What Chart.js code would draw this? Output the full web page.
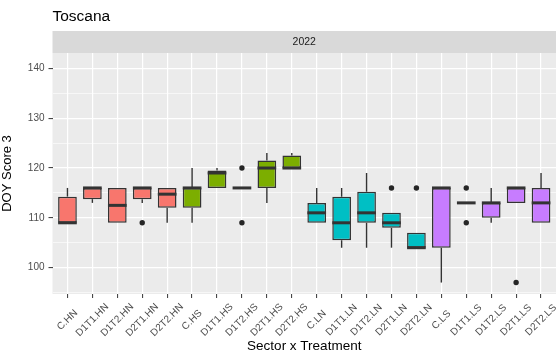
<!DOCTYPE html>
<html>
<head>
<meta charset="utf-8">
<script src="https://cdn.jsdelivr.net/npm/chart.js@4"></script>
<style>
  html, body { margin: 0; padding: 0; background: #ffffff; }
  #wrap { width: 557px; height: 355px; }
</style>
</head>
<body>
<div id="wrap"><canvas id="doyChart" width="557" height="355"></canvas></div>
<script>
/* ---------------- Data: DOY score 3, Toscana 2022 ---------------- */
const categories = ['C.HN','D1T1.HN','D1T2.HN','D2T1.HN','D2T2.HN',
                    'C.HS','D1T1.HS','D1T2.HS','D2T1.HS','D2T2.HS',
                    'C.LN','D1T1.LN','D1T2.LN','D2T1.LN','D2T2.LN',
                    'C.LS','D1T1.LS','D1T2.LS','D2T1.LS','D2T2.LS'];
const whiskerLow  = [109, 113, 109, 113, 109,  109, 116, 116, 113, 120,  109, 104, 104, 104, 104,   97, 113, 109, 113, 109];
const q1          = [109, 113.75, 109, 113.75, 112,  112, 116, 116, 116, 120,  109, 105.5, 109, 108, 104,  104, 113, 110, 113, 109];
const median      = [109, 116, 112.5, 116, 114.75,  116, 119, 116, 120, 120,  111, 109, 111, 109, 104,  116, 113, 113, 116, 113];
const q3          = [114.25, 116, 116, 116, 116,  116, 119.5, 116, 121.5, 122.5,  113, 114.25, 115.25, 111, 107,  116, 113, 113, 116, 116];
const whiskerHigh = [116, 116, 116, 116, 116,  120, 120, 116, 123, 123,  116, 116, 119, 111, 107,  116, 113, 116, 116, 119];
const outliers    = [[], [], [], [109], [],  [], [], [120, 109], [], [],  [], [], [], [116], [116],  [], [116, 109], [], [97], []];
const yTicks = [100, 110, 120, 130, 140];
const sectorColors = { HN: '#F8766D', HS: '#7CAE00', LN: '#00BFC4', LS: '#C77CFF' };

const FONT = '"Liberation Sans", Arial, sans-serif';
const INK = '#333333';
const TICK_TEXT = '#4D4D4D';

// major ticks plus the minor break halfway below each one
const yGridValues = yTicks.flatMap(v => [v - 5, v]);
const isMajor = c => c.tick && yTicks.includes(c.tick.value);

/* ---------------- Box plot drawing (panel, whiskers, medians, outliers) ---------------- */
const boxPlot = {
    id: 'boxPlot',
    beforeDraw(chart) {
        const { ctx, chartArea: a } = chart;
        ctx.save();
        // panel background
        ctx.fillStyle = '#EBEBEB';
        ctx.fillRect(a.left, a.top, a.right - a.left, a.bottom - a.top);
        // facet strip
        ctx.fillStyle = '#D9D9D9';
        ctx.fillRect(a.left, 31, a.right - a.left, a.top - 31);
        ctx.fillStyle = '#1A1A1A';
        ctx.font = '10.5px ' + FONT;
        ctx.textAlign = 'center';
        ctx.textBaseline = 'middle';
        ctx.fillText('2022', (a.left + a.right) / 2, (31 + a.top) / 2 + 0.5);
        // plot title
        ctx.fillStyle = '#000000';
        ctx.font = '15.5px ' + FONT;
        ctx.textAlign = 'left';
        ctx.textBaseline = 'alphabetic';
        ctx.fillText('Toscana', a.left, 21);
        ctx.restore();
    },
    beforeDatasetsDraw(chart) {
        const { ctx, scales: { x, y } } = chart;
        ctx.save();
        ctx.strokeStyle = INK;
        ctx.lineWidth = 1.4;
        categories.forEach((c, i) => {
            const px = x.getPixelForValue(i);
            ctx.beginPath();
            ctx.moveTo(px, y.getPixelForValue(whiskerLow[i]));
            ctx.lineTo(px, y.getPixelForValue(q1[i]));
            ctx.moveTo(px, y.getPixelForValue(q3[i]));
            ctx.lineTo(px, y.getPixelForValue(whiskerHigh[i]));
            ctx.stroke();
        });
        ctx.restore();
    },
    afterDatasetsDraw(chart) {
        const { ctx, scales: { x, y } } = chart;
        const bars = chart.getDatasetMeta(0).data;
        ctx.save();
        ctx.strokeStyle = INK;
        ctx.lineWidth = 3;
        categories.forEach((c, i) => {
            const px = x.getPixelForValue(i);
            const half = bars[i].width / 2;
            const py = y.getPixelForValue(median[i]);
            ctx.beginPath();
            ctx.moveTo(px - half, py);
            ctx.lineTo(px + half, py);
            ctx.stroke();
            ctx.fillStyle = '#262626';
            outliers[i].forEach(v => {
                ctx.beginPath();
                ctx.arc(px, y.getPixelForValue(v), 2.7, 0, Math.PI * 2);
                ctx.fill();
            });
        });
        ctx.restore();
    },
    afterDraw(chart) {
        // category labels at 45 degrees, centred under each tick
        const { ctx, scales: { x } } = chart;
        const midY = x.top + 26;
        ctx.save();
        ctx.fillStyle = TICK_TEXT;
        ctx.font = '10px ' + FONT;
        ctx.textAlign = 'center';
        ctx.textBaseline = 'middle';
        categories.forEach((c, i) => {
            ctx.save();
            ctx.translate(x.getPixelForValue(i), midY);
            ctx.rotate(-Math.PI / 4);
            ctx.fillText(c, 0, 0);
            ctx.restore();
        });
        ctx.restore();
    }
};

new Chart(document.getElementById('doyChart'), {
    type: 'bar',
    data: {
        datasets: [{
            data: categories.map((c, i) => ({ x: i, y: [q1[i], q3[i]] })),
            backgroundColor: categories.map(c => sectorColors[c.split('.')[1]]),
            borderColor: INK,
            borderWidth: 1.5,
            borderSkipped: false,
            categoryPercentage: 1,
            barPercentage: 0.75
        }]
    },
    options: {
        responsive: false,
        animation: false,
        layout: { padding: { top: 53, right: 1, left: 0, bottom: 0 } },
        plugins: { legend: { display: false }, tooltip: { enabled: false } },
        scales: {
            x: {
                type: 'linear',
                min: -0.6,
                max: 19.6,
                bounds: 'data',
                offset: false,
                afterBuildTicks: s => { s.ticks = categories.map((c, i) => ({ value: i })); },
                afterFit: s => { s.height = 61; },
                ticks: { display: false, autoSkip: false },
                grid: { offset: false, color: '#FFFFFF', lineWidth: 1.2, tickColor: INK, tickLength: 4, tickWidth: 1 },
                border: { display: false },
                title: { display: true, text: 'Sector x Treatment', color: '#000000',
                         font: { family: FONT, size: 13.5 }, padding: { top: 0, bottom: 1 } }
            },
            y: {
                min: 94.7,
                max: 143.1,
                bounds: 'data',
                afterBuildTicks: s => { s.ticks = yGridValues.filter(v => v >= s.min).map(v => ({ value: v })); },
                afterFit: s => { s.width = 52.5; },
                ticks: {
                    padding: 4,
                    color: TICK_TEXT,
                    font: { family: FONT, size: 10 },
                    callback: v => yTicks.includes(v) ? String(v) : ''
                },
                grid: {
                    color: '#FFFFFF',
                    lineWidth: c => isMajor(c) ? 1.2 : 0.6,
                    tickColor: c => isMajor(c) ? INK : 'rgba(0,0,0,0)',
                    tickLength: 4,
                    tickWidth: 1
                },
                border: { display: false },
                title: { display: true, text: 'DOY Score 3', color: '#000000',
                         font: { family: FONT, size: 13 }, padding: { top: 0, bottom: 8 } }
            }
        }
    },
    plugins: [boxPlot]
});
</script>
</body>
</html>
